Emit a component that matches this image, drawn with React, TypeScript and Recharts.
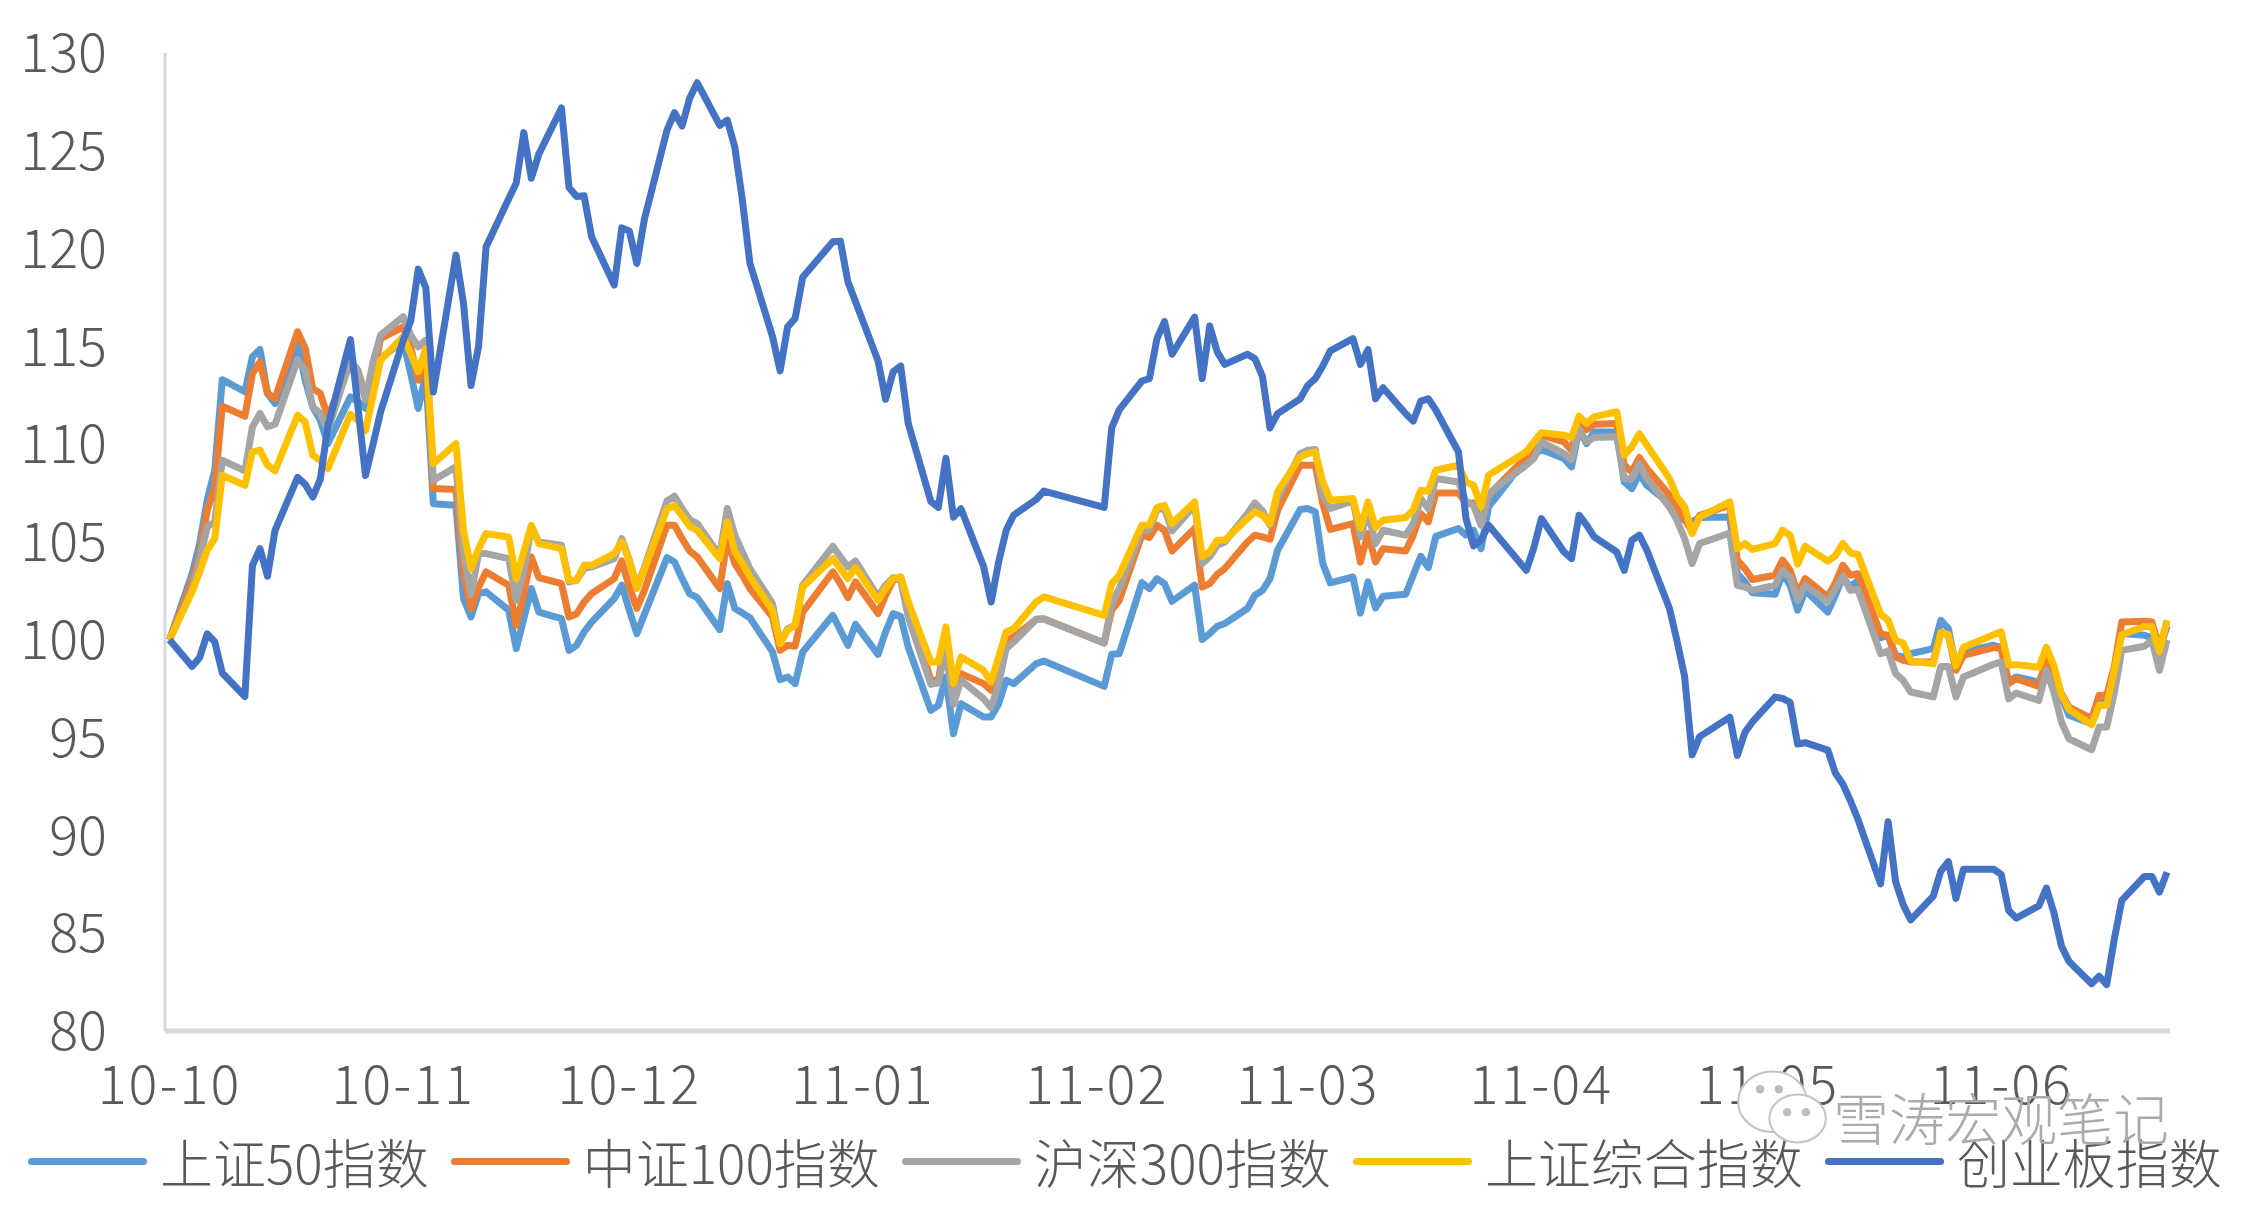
import { Legend, Line, LineChart, XAxis, YAxis } from "recharts";

const FONT = '"Noto Sans CJK SC", "Noto Sans", sans-serif';

// calendar days since 2010-10-08, one row per trading week
const DAYS = [
  0,
  3, 4, 5, 6, 7,
  10, 11, 12, 13, 14,
  17, 18, 19, 20, 21,
  24, 25, 26, 27, 28,
  31, 32, 33, 34, 35,
  38, 39, 40, 41, 42,
  45, 46, 47, 48, 49,
  52, 53, 54, 55, 56,
  59, 60, 61, 62, 63,
  66, 67, 68, 69, 70,
  73, 74, 75, 76, 77,
  80, 81, 82, 83, 84,
  88, 89, 90, 91,
  94, 95, 96, 97, 98,
  101, 102, 103, 104, 105,
  108, 109, 110, 111, 112,
  115, 116,
  124, 125, 126,
  129, 130, 131, 132, 133,
  136, 137, 138, 139, 140,
  143, 144, 145, 146, 147,
  150, 151, 152, 153, 154,
  157, 158, 159, 160, 161,
  164, 165, 166, 167, 168,
  171, 172, 173, 174, 175,
  180, 181, 182,
  185, 186, 187, 188, 189,
  192, 193, 194, 195, 196,
  199, 200, 201, 202, 203,
  207, 208, 209, 210,
  213, 214, 215, 216, 217,
  220, 221, 222, 223, 224,
  227, 228, 229, 230, 231,
  234, 235, 236, 237, 238,
  242, 243, 244, 245,
  248, 249, 250, 251, 252,
  255, 256, 257, 258, 259,
  262, 263, 264, 265,
];

const SZ50 = [
  100,
  103.38, 104.92, 107.14, 108.67, 113.3,
  112.68, 114.47, 114.84, 112.6, 112.08,
  115.15, 113.27, 111.91, 111.23, 110.03,
  112.42, 112.17, 111.83, 113.27, 114.38,
  115.3, 113.6, 111.82, 113.6, 106.96,
  106.88, 102.11, 101.17, 102.36, 102.45,
  101.51, 99.55, 101.08, 102.62, 101.42,
  101.08, 99.46, 99.72, 100.4, 100.9,
  102.11, 102.79, 101.51, 100.31, 101.3,
  104.2, 103.98, 103.13, 102.36, 102.16,
  100.52, 102.87, 101.6, 101.37, 101.13,
  99.38, 97.96, 98.1, 97.76, 99.38,
  101.25, 100.49, 99.72, 100.79,
  99.26, 100.4, 101.34, 101.2, 99.63,
  96.39, 96.65, 98.1, 95.2, 96.73,
  96.05, 96.05, 96.73, 97.93, 97.76,
  98.78, 98.92,
  97.62, 99.26, 99.29,
  102.92, 102.62, 103.13, 102.87, 101.97,
  102.79, 100.01, 100.32, 100.69, 100.83,
  101.6, 102.28, 102.53, 103.13, 104.58,
  106.66, 106.71, 106.54, 103.9, 102.91,
  103.21, 101.37, 102.96, 101.63, 102.23,
  102.33, 103.3, 104.27, 103.69, 105.29,
  105.69, 105.35, 105.6, 104.66, 106.8,
  109.27, 109.44, 109.73,
  109.27, 108.84, 110.75, 110.03, 110.63,
  110.63, 108.07, 107.73, 108.5, 107.9,
  106.97, 106.37, 106.11, 106.03, 106.25,
  106.28, 103.38, 102.96, 102.4,
  102.33, 103.38, 102.79, 101.51, 102.53,
  101.42, 102.28, 103.21, 102.7, 103.04,
  100.11, 100.23, 99.2, 99.12, 99.29,
  99.55, 101.0, 100.57, 98.61, 99.38,
  99.72, 99.6, 97.84, 98.1,
  97.84, 98.78, 98.1, 97.08, 96.14,
  95.71, 96.73, 96.9, 98.44, 100.32,
  100.23, 100.11, 99.46, 100.7,
];

const ZZ100 = [
  100,
  103.04, 104.32, 106.62, 107.8, 111.94,
  111.43, 113.61, 114.21, 112.6, 112.34,
  115.75, 114.9, 112.85, 112.6, 111.4,
  114.13, 113.7, 112.6, 113.44, 115.4,
  116.0, 114.98, 113.27, 114.55, 107.73,
  107.68, 103.4, 101.6, 102.7, 103.47,
  102.79, 100.74, 102.36, 104.24, 103.18,
  102.87, 101.16, 101.33, 101.93, 102.36,
  103.13, 104.03, 102.7, 101.6, 102.53,
  105.86, 105.86, 105.17, 104.54, 104.24,
  102.62, 105.17, 103.9, 103.3, 102.62,
  101.17, 99.46, 99.72, 99.67, 101.42,
  103.47, 102.87, 102.16, 102.96,
  101.34, 102.28, 103.04, 103.21, 101.85,
  97.93, 97.93, 100.14, 97.59, 98.27,
  97.76, 97.42, 98.61, 99.97, 100.15,
  101.05, 101.08,
  99.84, 101.51, 102.02,
  105.35, 105.23, 105.86, 105.6, 104.54,
  105.69, 102.7, 102.87, 103.35, 103.64,
  105.0, 105.35, 105.26, 105.14, 106.62,
  108.93, 108.93, 108.93, 106.97, 105.64,
  105.94, 103.98, 105.43, 103.98, 104.66,
  104.54, 105.35, 106.45, 106.03, 107.51,
  107.51, 107.0, 107.0, 105.94, 107.39,
  109.35, 109.78, 110.46,
  110.12, 109.69, 111.19, 110.75, 111.02,
  111.06, 108.93, 108.58, 109.32, 108.76,
  107.39, 106.71, 106.2, 105.51, 106.37,
  106.88, 104.07, 103.64, 103.08,
  103.3, 104.07, 103.55, 102.36, 103.13,
  102.19, 102.9, 103.81, 103.3, 103.38,
  100.32, 100.23, 99.12, 98.95, 98.87,
  98.87, 100.4, 100.23, 98.44, 99.2,
  99.6, 99.55, 97.76, 98.01,
  97.62, 98.95, 98.27, 97.25, 96.56,
  95.97, 97.16, 97.16, 98.61, 100.91,
  100.95, 100.91, 99.55, 100.91,
];

const HS300 = [
  100,
  102.62, 104.07, 105.77, 106.03, 109.18,
  108.64, 110.89, 111.57, 110.89, 111.02,
  114.33, 113.79, 111.91, 111.57, 110.72,
  114.3, 113.79, 112.25, 114.2, 115.58,
  116.52, 115.58, 114.98, 115.32, 108.16,
  108.84, 104.41, 102.28, 104.41, 104.41,
  104.15, 102.02, 103.55, 105.77, 105.0,
  104.83, 102.96, 103.04, 103.64, 103.73,
  104.15, 105.17, 104.07, 102.7, 103.7,
  107.1, 107.34, 106.71, 106.15, 105.94,
  104.32, 106.71, 105.35, 104.49, 103.64,
  101.85, 99.8, 100.57, 100.74, 102.79,
  104.78, 104.24, 103.73, 104.03,
  102.19, 102.79, 103.18, 103.04, 101.17,
  97.72, 97.79, 99.46, 96.7, 97.93,
  96.99, 96.53, 97.76, 99.55, 99.89,
  101.05, 101.05,
  99.84, 101.85, 102.62,
  105.6, 105.63, 106.66, 106.71, 105.57,
  106.88, 103.9, 104.24, 104.83, 105.0,
  106.45, 107.0, 106.59, 105.86, 107.22,
  109.52, 109.69, 109.73, 107.39, 106.71,
  107.1, 105.26, 106.54, 104.92, 105.6,
  105.35, 105.94, 107.22, 106.71, 108.25,
  108.07, 107.05, 106.88, 105.86, 107.48,
  108.93, 109.27, 110.12,
  109.52, 109.22, 110.8, 110.12, 110.34,
  110.38, 108.24, 108.24, 109.01, 108.24,
  106.79, 106.11, 105.18, 103.9, 104.92,
  105.46, 102.79, 102.7, 102.53,
  102.79, 103.55, 103.21, 102.0, 102.79,
  101.94, 102.62, 103.25, 102.53, 102.57,
  99.29, 99.43, 98.27, 97.93, 97.33,
  97.08, 98.64, 98.64, 97.08, 98.1,
  98.75, 98.87, 96.99, 97.28,
  96.9, 98.44, 97.33, 95.8, 94.94,
  94.38, 95.54, 95.54, 97.25, 99.46,
  99.67, 99.97, 98.44, 100.0,
];

const SZZH = [
  100,
  102.45, 103.47, 104.58, 105.17, 108.41,
  107.9, 109.6, 109.7, 108.93, 108.64,
  111.48, 111.14, 109.44, 109.18, 108.75,
  111.53, 111.23, 110.7, 112.5, 114.3,
  115.5, 114.64, 113.7, 114.9, 109.0,
  110.03, 105.6, 103.64, 104.66, 105.43,
  105.26, 103.13, 104.49, 105.85, 104.92,
  104.66, 103.04, 103.04, 103.81, 103.81,
  104.41, 105.0, 104.07, 102.62, 103.6,
  106.7, 106.85, 106.35, 105.8, 105.6,
  104.15, 106.03, 104.49, 103.9, 103.21,
  101.51, 99.8, 100.49, 100.74, 102.7,
  104.15, 103.64, 103.13, 103.69,
  102.02, 102.62, 103.13, 103.21, 101.94,
  98.87, 98.87, 100.66, 97.76, 99.12,
  98.44, 97.84, 99.12, 100.4, 100.57,
  101.94, 102.19,
  101.25, 102.87, 103.3,
  105.86, 105.86, 106.76, 106.88, 105.94,
  107.05, 104.24, 104.49, 105.09, 105.09,
  106.2, 106.54, 106.37, 105.94, 107.56,
  109.35, 109.52, 109.6, 108.07, 107.14,
  107.22, 105.69, 107.05, 105.74, 106.11,
  106.25, 106.63, 107.64, 107.6, 108.67,
  108.93, 108.07, 107.9, 106.8, 108.42,
  109.61, 110.12, 110.58,
  110.46, 110.34, 111.43, 111.06, 111.4,
  111.66, 109.44, 109.86, 110.54, 109.95,
  108.24, 107.31, 106.8, 105.43, 106.28,
  107.05, 104.66, 104.92, 104.62,
  104.92, 105.6, 105.34, 103.87, 104.78,
  104.02, 104.29, 104.93, 104.44, 104.36,
  101.32, 101.0, 99.98, 99.83, 98.92,
  98.77, 100.37, 100.26, 98.67, 99.62,
  100.26, 100.41, 98.71, 98.73,
  98.6, 99.62, 98.67, 97.18, 96.44,
  95.65, 96.65, 96.65, 98.45, 100.26,
  100.68, 100.68, 99.41, 101.0,
];

const CYB = [
  100,
  98.64, 99.1, 100.3, 99.9, 98.3,
  97.1, 103.8, 104.66, 103.25, 105.6,
  108.3, 107.95, 107.3, 108.2, 110.9,
  115.35, 111.9, 108.4, 110, 111.65,
  115.3, 116.3, 118.95, 118, 112.67,
  119.67, 117.2, 113, 115, 120.1,
  122.55, 123.35, 125.93, 123.6, 124.83,
  127.19, 123.12, 122.66, 122.7, 120.6,
  118.14, 121.06, 120.9, 119.24, 121.5,
  126.06, 126.95, 126.27, 127.68, 128.48,
  126.3, 126.57, 125.18, 122.48, 119.25,
  115.5, 113.75, 116, 116.43, 118.53,
  120.35, 120.38, 118.3, 117.3,
  114.26, 112.3, 113.7, 114, 111.07,
  107.07, 106.77, 109.28, 106.27, 106.7,
  103.75, 101.93, 103.98, 105.6, 106.38,
  107.18, 107.6,
  106.77, 110.83, 111.75,
  113.23, 113.35, 115.4, 116.27, 114.6,
  116.5, 113.35, 116.04, 114.72, 114.08,
  114.6, 114.37, 113.46, 110.83, 111.56,
  112.32, 113, 113.35, 114, 114.77,
  115.4, 114.08, 114.83, 112.32, 112.89,
  111.56, 111.18, 112.2, 112.32, 111.75,
  109.6, 106.2, 104.8, 105.09, 105.86,
  103.55, 104.7, 106.2,
  104.49, 104.15, 106.37, 105.86, 105.26,
  104.49, 103.55, 105.09, 105.35, 104.58,
  101.6, 99.94, 98.13, 94.12, 95.05,
  96.05, 94.09, 95.27, 95.8,
  97.07, 97, 96.8, 94.67, 94.74,
  94.36, 93.19, 92.62, 91.77, 90.82,
  87.52, 90.7, 87.63, 86.46, 85.68,
  86.9, 88.18, 88.65, 86.78, 88.27,
  88.27, 88.01, 86.16, 85.77,
  86.4, 87.31, 86.04, 84.34, 83.55,
  82.42, 82.8, 82.37, 84.67, 86.68,
  87.9, 87.9, 87.1, 88.12,
];

const MONTH_DAYS = [0, 31, 61, 92, 123, 151, 182, 212, 243];
const MONTH_LABELS = ["10-10", "10-11", "10-12", "11-01", "11-02", "11-03", "11-04", "11-05", "11-06"];
const Y_TICKS = [80, 85, 90, 95, 100, 105, 110, 115, 120, 125, 130];

const rows = DAYS.map((day, i) => ({
  day,
  sz50: SZ50[i],
  zz100: ZZ100[i],
  hs300: HS300[i],
  szzh: SZZH[i],
  cyb: CYB[i],
}));

const SERIES = [
  { key: "sz50", name: "上证50指数", color: "#5B9BD5" },
  { key: "zz100", name: "中证100指数", color: "#ED7D31" },
  { key: "hs300", name: "沪深300指数", color: "#A5A5A5" },
  { key: "szzh", name: "上证综合指数", color: "#FFC000" },
  { key: "cyb", name: "创业板指数", color: "#4472C4" },
];

function LegendRow() {
  return (
    <div style={{ display: "flex", alignItems: "center", paddingLeft: 28, whiteSpace: "nowrap", fontFamily: FONT, fontWeight: 300, fontSize: 53, color: "#595959" }}>
      {SERIES.map((s) => (
        <div key={s.key} style={{ display: "flex", alignItems: "center", marginRight: 22 }}>
          <span style={{ width: 119, height: 7, borderRadius: 4, background: s.color, marginRight: 13 }} />
          <span>{s.name}</span>
        </div>
      ))}
    </div>
  );
}

function Watermark() {
  return (
    <div style={{ position: "absolute", left: 1735, top: 1065, width: 450, height: 100, display: "flex", alignItems: "center" }}>
      <svg width="96" height="90" viewBox="0 0 92 84" style={{ marginTop: -14 }}>
        <ellipse cx="36" cy="36" rx="33" ry="29" fill="#fff" stroke="#c4c4c4" strokeWidth="2" />
        <ellipse cx="60" cy="52" rx="27" ry="23" fill="#fff" stroke="#c4c4c4" strokeWidth="2" />
        <circle cx="50" cy="46" r="4" fill="#bdbdbd" />
        <circle cx="68" cy="46" r="4" fill="#bdbdbd" />
        <circle cx="24" cy="24" r="4" fill="#bdbdbd" />
        <circle cx="42" cy="24" r="4" fill="#bdbdbd" />
      </svg>
      <span style={{ fontFamily: FONT, fontWeight: 300, fontSize: 56, color: "#ababab", marginLeft: 2, whiteSpace: "nowrap" }}>雪涛宏观笔记</span>
    </div>
  );
}

export default function App() {
  const tickStyle = { fontSize: 54, fill: "#595959", fontFamily: FONT, fontWeight: 300 };
  return (
    <div style={{ position: "absolute", left: 0, top: 0, width: 2243, height: 1222, background: "#fff" }}>
      <LineChart width={2243} height={1222} data={rows} margin={{ top: 53, right: 73, left: 0, bottom: 0 }}>
        <XAxis
          dataKey="day"
          type="number"
          domain={[-0.6, 265.4]}
          ticks={MONTH_DAYS}
          interval={0}
          tickFormatter={(d) => MONTH_LABELS[MONTH_DAYS.indexOf(d)]}
          tick={{ ...tickStyle, letterSpacing: 2 }}
          tickLine={false}
          tickMargin={29}
          axisLine={{ stroke: "#D9D9D9", strokeWidth: 5 }}
          height={131}
        />
        <YAxis
          domain={[80, 130]}
          ticks={Y_TICKS}
          interval={0}
          tick={tickStyle}
          tickLine={false}
          tickMargin={52}
          axisLine={{ stroke: "#D9D9D9", strokeWidth: 3 }}
          width={165}
        />
        {SERIES.map((s) => (
          <Line
            key={s.key}
            dataKey={s.key}
            name={s.name}
            stroke={s.color}
            strokeWidth={7}
            strokeLinejoin="round"
            dot={false}
            type="linear"
            isAnimationActive={false}
          />
        ))}
        <Legend height={60} content={() => <LegendRow />} wrapperStyle={{ left: 0, top: 1123, width: 2243 }} />
      </LineChart>
      <Watermark />
    </div>
  );
}
